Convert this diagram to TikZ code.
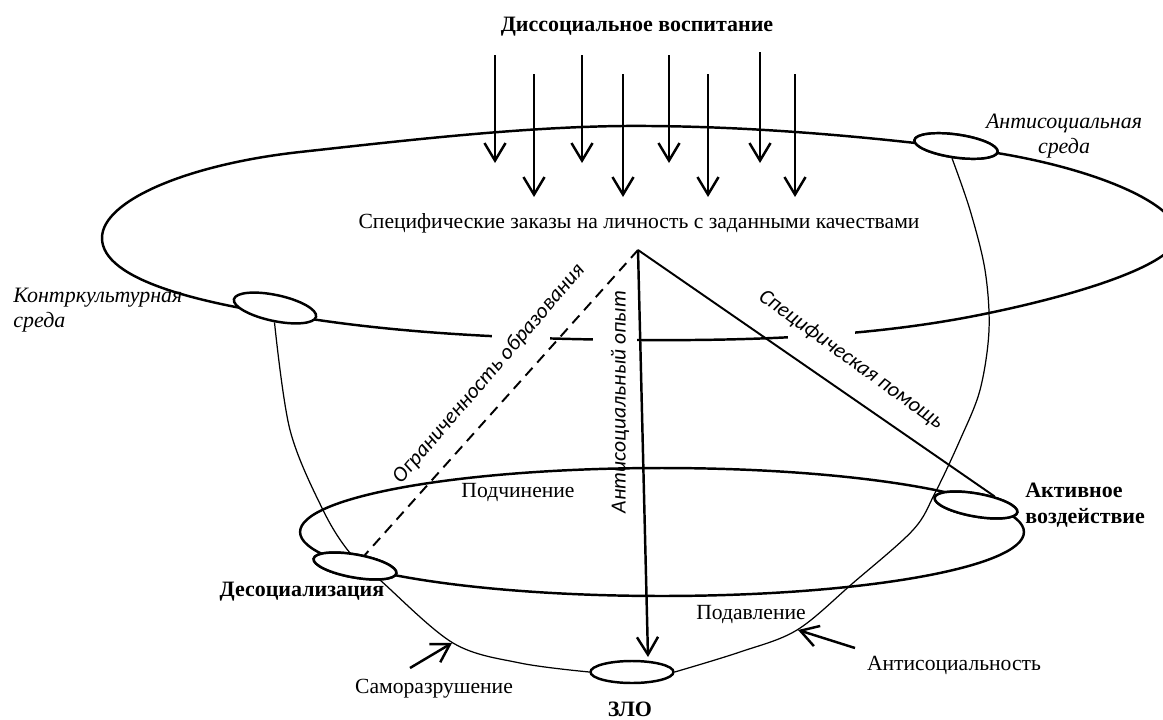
\documentclass[tikz,border=0pt]{standalone}
\usepackage{fontspec}
\setmainfont{Liberation Serif}
\newfontfamily\labfont{Carlito}
\usetikzlibrary{arrows.meta,shapes.geometric}
\begin{document}
\begin{tikzpicture}[x=0.02cm,y=-0.02cm,
  heavy/.style={line width=1.4pt},
  fine/.style={line width=0.7pt},
  arr/.style={heavy,-{Straight Barb[length=10pt,width=12pt,line width=1.4pt]}},
  blob/.style={draw,heavy,fill=white,ellipse,inner sep=0pt,minimum width=1.68cm,minimum height=0.46cm},
  txt/.style={font=\fontsize{12.3}{14}\selectfont},
  btxt/.style={font=\fontsize{12.5}{15}\selectfont\bfseries},
  itxt/.style={font=\fontsize{12.5}{14.2}\selectfont\itshape},
  ltxt/.style={font=\labfont\itshape\fontsize{12.3}{14}\selectfont},
]
\useasboundingbox (0,0) rectangle (1163,720);

% upper big ellipse
\draw[heavy] (102,238) .. controls (102,200) and (190,164) .. (300,152)
  .. controls (400,141) and (520,127) .. (623,126)
  .. controls (760,125) and (900,140) .. (997,153)
  .. controls (1100,170) and (1178,205) .. (1178,235)
  .. controls (1178,262) and (1090,292) .. (989,313)
  .. controls (880,336) and (760,341) .. (637,340)
  .. controls (500,339) and (400,332) .. (318,320)
  .. controls (200,305) and (102,280) .. cycle;
\fill[white] (492,326) rectangle (550,350);
\fill[white] (593,326) rectangle (637,350);
\fill[white] (788,322) rectangle (855,350);

% lower ellipse
\draw[heavy] (662,532) ellipse [x radius=7.24cm, y radius=1.28cm];

% small ellipses
\node[blob,rotate=-8] (antis) at (956,146) {};
\node[blob,rotate=-12,minimum height=0.52cm] (kontr) at (275,308) {};
\node[blob,rotate=-10] (desoc) at (355,566) {};
\node[blob,rotate=-10] (active) at (976,505) {};
\node[blob,minimum width=1.66cm,minimum height=0.44cm] (zlo) at (632,672) {};

% thin meridian arcs
\draw[fine] plot[smooth, tension=0.55] coordinates {
  (kontr.-80) (290,430) (323,510) (350,553) (380,580) (453,643) (520,663) (zlo.west)};
\draw[fine] plot[smooth, tension=0.55] coordinates {
  (zlo.east) (740,652) (797,630) (853,583) (913,530) (935,493) (960,440)
  (980,390) (989,330) (985,270) (970,210) (antis.-100)};
\node[blob,rotate=-10] at (desoc) {};
\node[blob,rotate=-10] at (active) {};
\node[blob,rotate=-8] at (antis) {};

% top arrows
\foreach \x/\t/\b [count=\i] in {495/55/163, 534/74/197, 582/55/163, 623/74/197,
                                669/55/163, 708/74/197, 760/52/163, 795/74/197} {
  \coordinate (s\i) at (\x,\t);
  \coordinate (e\i) at (\x,\b);
  \draw[arr] (s\i) -- (e\i);
}

% apex lines
\coordinate (apex) at (638,250);
\coordinate (zlotip) at (648,657);
\draw[line width=1.1pt,dash pattern=on 6pt off 4pt] (apex) -- (desoc);
\draw[arr] (apex) -- (zlotip);
\draw[line width=1.1pt] (apex) -- (active.35);

% small arrows
\coordinate (samS) at (410,668); \coordinate (samE) at (452,643);
\draw[arr] (samS) -- (samE);
\coordinate (antS) at (855,648); \coordinate (antE) at (798,630);
\draw[arr] (antS) -- (antE);

% texts
\node[btxt] (title) at (637,27) {Диссоциальное воспитание};
\node[txt] (zak) at (639,223) {Специфические заказы на личность с заданными качествами};
\node[itxt,align=left,anchor=north west,inner sep=0pt] (kontrT) at (13,288) {Контркультурная\\среда};
\node[itxt,align=center,inner sep=0pt] (antisT) at (1064,136) {Антисоциальная\\среда};
\node[ltxt,rotate=49.3] (ogr) at (489,374) {Ограниченность образования};
\node[ltxt,rotate=90] (opyt) at (620,402) {Антисоциальный опыт};
\node[ltxt,rotate=-36] (pom) at (851,360) {Специфическая помощь};
\node[txt] (podch) at (518,493) {Подчинение};
\node[btxt] (desT) at (302,592) {Десоциализация};
\node[btxt,align=left,anchor=west,inner sep=0pt] (actT) at (1025,505) {Активное\\воздействие};
\node[txt] (podav) at (751,615) {Подавление};
\node[txt] (samT) at (434,689) {Саморазрушение};
\node[txt] (antT) at (954,665) {Антисоциальность};
\node[btxt] (zloT) at (630,709) {ЗЛО};
\end{tikzpicture}
\end{document}
